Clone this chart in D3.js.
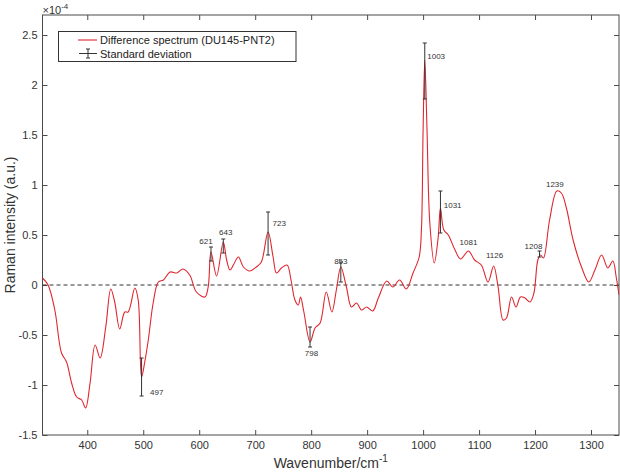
<!DOCTYPE html>
<html>
<head>
<meta charset="utf-8">
<script src="https://cdn.jsdelivr.net/npm/d3@7"></script>
<style>
  body { margin: 0; background: #fff; }
  svg text { font-family: "Liberation Sans", Arial, sans-serif; }
</style>
</head>
<body>
<div id="chart"></div>
<script>
// spectrum, intensity in units of 1e-4
const wavenumbers = [320, 330, 342, 354, 363, 372, 381, 390, 397, 405, 414, 423, 433, 442, 449, 458, 467, 473, 485, 491,
  497, 503, 509, 518, 527, 536, 548, 560, 571, 583, 595, 610, 616, 621, 631, 643, 649, 655, 661, 670,
  679, 690, 702, 711, 723, 732, 738, 747, 757, 764, 771, 777, 781, 787, 798, 807, 816, 827, 837, 845,
  853, 863, 872, 881, 890, 899, 910, 920, 935, 946, 958, 970, 982, 993, 997, 1000, 1003, 1007, 1012, 1020,
  1027, 1031, 1037, 1045, 1057, 1067, 1081, 1092, 1104, 1116, 1126, 1134, 1143, 1149, 1158, 1166, 1174, 1182, 1191, 1198,
  1205, 1210, 1215, 1226, 1239, 1247, 1256, 1268, 1283, 1296, 1307, 1319, 1330, 1339, 1345, 1350]
const intensity = [0.07, 0.0, -0.25, -0.68, -0.77, -0.98, -1.12, -1.15, -1.23, -0.98, -0.60, -0.73, -0.42, -0.04, -0.17, -0.44, -0.27, -0.27, -0.03, -0.15,
  -0.92, -0.76, -0.55, -0.17, 0.03, 0.05, 0.13, 0.12, 0.16, 0.10, -0.07, -0.12, -0.02, 0.33, 0.09, 0.43, 0.25, 0.15, 0.20, 0.28,
  0.18, 0.14, 0.18, 0.23, 0.53, 0.28, 0.12, 0.17, 0.20, 0.05, -0.15, -0.20, -0.12, -0.27, -0.57, -0.43, -0.38, -0.07, -0.27, -0.05,
  0.18, -0.02, -0.22, -0.18, -0.25, -0.22, -0.26, -0.13, 0.04, -0.02, 0.05, -0.04, 0.12, 0.28, 0.55, 1.55, 2.25, 1.55, 0.62, 0.22,
  0.48, 0.77, 0.55, 0.50, 0.35, 0.26, 0.34, 0.25, 0.20, 0.03, 0.19, -0.02, -0.35, -0.33, -0.12, -0.22, -0.12, -0.13, -0.17, -0.08,
  0.25, 0.30, 0.27, 0.65, 0.94, 0.92, 0.77, 0.45, 0.18, 0.03, 0.15, 0.30, 0.17, 0.24, 0.08, -0.10]

// annotated peaks
const peakWn = [497, 621, 643, 723, 798, 853, 1003, 1031, 1081, 1126, 1208, 1239]
const peakVal = [-0.92, 0.33, 0.43, 0.53, -0.57, 0.18, 2.25, 0.77, 0.34, 0.19, 0.30, 0.94]
const errLo = [-1.11, 0.24, 0.32, 0.30, -0.62, 0.03, 1.86, 0.52, null, null, 0.28, null]
const errHi = [-0.73, 0.38, 0.46, 0.73, -0.42, 0.23, 2.42, 0.94, null, null, 0.34, null]

const xTicks = [400, 500, 600, 700, 800, 900, 1000, 1100, 1200, 1300]
const yTicks = [-1.5, -1, -0.5, 0, 0.5, 1, 1.5, 2, 2.5]

const chartWidth = 620
const chartHeight = 475
const plotLeft = 42.5, plotRight = 619, plotTop = 15, plotBottom = 435

const svg = d3.select('#chart').append('svg')
  .attr('width', chartWidth)
  .attr('height', chartHeight)

const x = d3.scaleLinear().domain([320, 1350]).range([plotLeft, plotRight])
const y = d3.scaleLinear().domain([-1.5, 2.7]).range([plotBottom, plotTop])

svg.append('clipPath').attr('id', 'plot-clip')
  .append('rect')
  .attr('x', plotLeft).attr('y', plotTop)
  .attr('width', plotRight - plotLeft).attr('height', plotBottom - plotTop)

// axes, ticks inward on all four sides
const axisColor = '#4a4a4a'
function styleAxis(g) {
  g.select('.domain').remove()
  g.selectAll('.tick line').attr('stroke', axisColor)
  g.selectAll('.tick text').attr('fill', '#333').style('font-size', '11px')
}

svg.append('g')
  .attr('transform', 'translate(0,' + plotBottom + ')')
  .call(d3.axisBottom(x).tickValues(xTicks).tickSize(-5).tickPadding(6).tickFormat(d => String(d)))
  .call(styleAxis)
svg.append('g')
  .attr('transform', 'translate(0,' + plotTop + ')')
  .call(d3.axisTop(x).tickValues(xTicks).tickSize(-5).tickFormat(''))
  .call(styleAxis)
svg.append('g')
  .attr('transform', 'translate(' + plotLeft + ',0)')
  .call(d3.axisLeft(y).tickValues(yTicks).tickSize(-5).tickPadding(5).tickFormat(d => String(d)))
  .call(styleAxis)
svg.append('g')
  .attr('transform', 'translate(' + plotRight + ',0)')
  .call(d3.axisRight(y).tickValues(yTicks).tickSize(-5).tickFormat(''))
  .call(styleAxis)

svg.append('rect')
  .attr('x', plotLeft).attr('y', plotTop)
  .attr('width', plotRight - plotLeft).attr('height', plotBottom - plotTop)
  .attr('fill', 'none')
  .attr('stroke', axisColor)

// zero line
svg.append('line')
  .attr('x1', plotLeft).attr('x2', plotRight)
  .attr('y1', y(0)).attr('y2', y(0))
  .attr('stroke', '#333')
  .attr('stroke-dasharray', '4,3')

// spectrum
const data = wavenumbers.map((w, i) => [w, intensity[i]])
const line = d3.line()
  .x(d => x(d[0]))
  .y(d => y(d[1]))
  .curve(d3.curveCatmullRom.alpha(0.5))

svg.append('path')
  .datum(data)
  .attr('clip-path', 'url(#plot-clip)')
  .attr('fill', 'none')
  .attr('stroke', '#e0262e')
  .attr('stroke-width', 1.1)
  .attr('d', line)

// error bars
const bars = peakWn.map((w, i) => ({ w: w, lo: errLo[i], hi: errHi[i] })).filter(d => d.lo !== null)
const barG = svg.append('g').attr('stroke', '#333').attr('stroke-width', 1)
bars.forEach(d => {
  const cx = x(d.w)
  barG.append('line').attr('x1', cx).attr('x2', cx).attr('y1', y(d.lo)).attr('y2', y(d.hi))
  barG.append('line').attr('x1', cx - 2).attr('x2', cx + 2).attr('y1', y(d.lo)).attr('y2', y(d.lo))
  barG.append('line').attr('x1', cx - 2).attr('x2', cx + 2).attr('y1', y(d.hi)).attr('y2', y(d.hi))
})

// peak labels: [anchor, dx, dy, ref] relative to bar end (hi/lo) or to the peak value
const labelLayout = [
  ['start', 8.5, -1, 'lo'], ['middle', -5, -3, 'hi'], ['middle', 2.5, -4, 'hi'], ['start', 4.5, 14, 'hi'],
  ['middle', 1.5, 9, 'lo'], ['middle', 0, 2, 'hi'], ['start', 2.5, 16, 'hi'], ['start', 3.3, 17, 'hi'],
  ['middle', 0, -6, 'peak'], ['middle', 1, -8, 'peak'], ['middle', -6, -2, 'hi'], ['middle', -2, -4, 'peak']
]
svg.append('g')
  .selectAll('text')
  .data(peakWn)
  .enter()
  .append('text')
  .text(d => d)
  .attr('x', (d, i) => x(d) + labelLayout[i][1])
  .attr('y', (d, i) => {
    const ref = labelLayout[i][3]
    const v = ref === 'lo' ? errLo[i] : ref === 'hi' ? errHi[i] : peakVal[i]
    return y(v) + labelLayout[i][2]
  })
  .attr('text-anchor', (d, i) => labelLayout[i][0])
  .attr('fill', '#333')
  .style('font-size', '8px')

// exponent
const expo = svg.append('text').attr('x', plotLeft).attr('y', 13.5).attr('fill', '#333').style('font-size', '11px')
expo.append('tspan').text('×10')
expo.append('tspan').attr('dy', -5).style('font-size', '8px').text('-4')

// axis labels
const xl = svg.append('text')
  .attr('x', (plotLeft + plotRight) / 2)
  .attr('y', 468)
  .attr('text-anchor', 'middle')
  .attr('fill', '#333')
  .style('font-size', '14px')
xl.append('tspan').text('Wavenumber/cm')
xl.append('tspan').attr('dy', -6).style('font-size', '10px').text('-1')

svg.append('text')
  .attr('transform', 'translate(15,' + (plotTop + plotBottom) / 2 + ') rotate(-90)')
  .attr('text-anchor', 'middle')
  .attr('fill', '#333')
  .style('font-size', '14px')
  .text('Raman intensity (a.u.)')

// legend
const lg = svg.append('g')
lg.append('rect')
  .attr('x', 58.5).attr('y', 31.5)
  .attr('width', 237.5).attr('height', 30)
  .attr('fill', '#fff')
  .attr('stroke', '#333')
lg.append('line')
  .attr('x1', 78).attr('x2', 97).attr('y1', 40).attr('y2', 40)
  .attr('stroke', '#e0262e').attr('stroke-width', 1.1)
lg.append('text').attr('x', 100).attr('y', 44).attr('fill', '#222').style('font-size', '11px')
  .text('Difference spectrum (DU145-PNT2)')
const le = lg.append('g').attr('stroke', '#333')
le.append('line').attr('x1', 79).attr('x2', 97).attr('y1', 53.5).attr('y2', 53.5)
le.append('line').attr('x1', 88).attr('x2', 88).attr('y1', 49).attr('y2', 58)
le.append('line').attr('x1', 86).attr('x2', 90).attr('y1', 49).attr('y2', 49)
le.append('line').attr('x1', 86).attr('x2', 90).attr('y1', 58).attr('y2', 58)
lg.append('text').attr('x', 100).attr('y', 57.5).attr('fill', '#222').style('font-size', '11px')
  .text('Standard deviation')
</script>
</body>
</html>
